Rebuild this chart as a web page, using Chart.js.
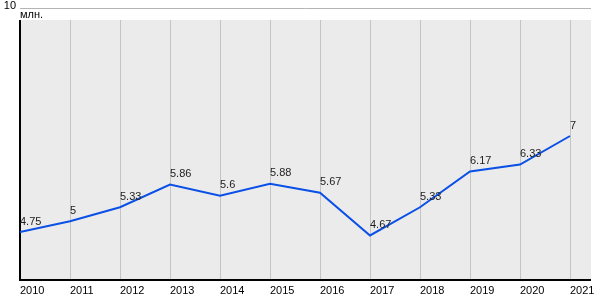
<!DOCTYPE html>
<html>
<head>
<meta charset="utf-8">
<script src="https://cdn.jsdelivr.net/npm/chart.js@4/dist/chart.umd.min.js"></script>
<style>
    html, body { margin: 0; padding: 0; background: #fff; }
    #wrap { width: 600px; height: 300px; }
</style>
</head>
<body>
<div id="wrap"><canvas id="chart"></canvas></div>
<script>
// datos
const years = [2010, 2011, 2012, 2013, 2014, 2015, 2016, 2017, 2018, 2019, 2020, 2021];
const values = [4.75, 5, 5.33, 5.86, 5.6, 5.88, 5.67, 4.67, 5.33, 6.17, 6.33, 7];
const unitLabel = 'млн.';
const topTick = 10;

const FONT = '"Liberation Sans", Arial, sans-serif';

// fondo gris, rejilla y ejes
const fondo = {
    id: 'fondo',
    beforeDatasetsDraw(chart) {
        const { ctx, chartArea: a, scales } = chart;
        const x = scales.x, y = scales.y;
        const yTop = a.top + 12;
        ctx.save();
        ctx.fillStyle = '#ebebeb';
        ctx.fillRect(a.left, yTop, a.right - a.left, a.bottom - yTop);

        ctx.strokeStyle = '#c4c4c4';
        ctx.lineWidth = 1;
        years.forEach((yr, i) => {
            if (i === 0) return;
            const px = Math.round(x.getPixelForValue(yr)) + 0.5;
            ctx.beginPath();
            ctx.moveTo(px, yTop);
            ctx.lineTo(px, a.bottom);
            ctx.stroke();
        });

        // linea del 10
        const py = Math.round(y.getPixelForValue(topTick)) + 0.5;
        ctx.strokeStyle = '#b4b4b4';
        ctx.beginPath();
        ctx.moveTo(a.left, py);
        ctx.lineTo(a.right, py);
        ctx.stroke();

        // ejes
        ctx.strokeStyle = '#000';
        ctx.lineWidth = 2;
        ctx.beginPath();
        ctx.moveTo(a.left, yTop);
        ctx.lineTo(a.left, a.bottom);
        ctx.lineTo(a.right, a.bottom);
        ctx.stroke();

        ctx.fillStyle = '#000';
        ctx.font = '11px ' + FONT;
        ctx.textBaseline = 'middle';
        ctx.textAlign = 'right';
        ctx.fillText(String(topTick), a.left - 4, py - 3);
        ctx.textAlign = 'left';
        ctx.fillText(unitLabel, a.left, py + 6);
        ctx.restore();
    }
};

// etiquetas de los puntos
const etiquetas = {
    id: 'etiquetas',
    afterDatasetsDraw(chart) {
        const { ctx } = chart;
        const meta = chart.getDatasetMeta(0);
        ctx.save();
        ctx.fillStyle = '#222';
        ctx.font = '11px ' + FONT;
        ctx.textAlign = 'left';
        ctx.textBaseline = 'middle';
        meta.data.forEach((pt, i) => {
            ctx.fillText(String(values[i]), pt.x, pt.y - 10.5);
        });
        ctx.restore();
    }
};

const ctx1 = document.getElementById('chart');
const chart1 = new Chart(ctx1, {
    type: 'line',
    data: {
        datasets: [{
            data: years.map((yr, i) => ({ x: yr, y: values[i] })),
            borderColor: '#0a50e6',
            borderWidth: 2,
            pointRadius: 0,
            tension: 0,
            fill: false
        }]
    },
    options: {
        responsive: true,
        maintainAspectRatio: false,
        animation: false,
        layout: { padding: { left: 20, right: 9, top: 8, bottom: 4 } },
        plugins: { legend: { display: false }, tooltip: { enabled: false } },
        scales: {
            x: {
                type: 'linear',
                min: 2010,
                max: 2021.42,
                afterBuildTicks: (scale) => { scale.ticks = years.map(v => ({ value: v })); },
                afterFit: (scale) => { scale.height = 16; },
                grid: { display: false, drawTicks: false },
                border: { display: false },
                ticks: {
                    align: 'start',
                    padding: 4,
                    maxRotation: 0,
                    autoSkip: false,
                    color: '#000',
                    font: { family: FONT, size: 11 },
                    callback: (v) => String(v)
                }
            },
            y: {
                display: false,
                min: 3.625,
                max: 10
            }
        }
    },
    plugins: [fondo, etiquetas]
});
</script>
</body>
</html>
